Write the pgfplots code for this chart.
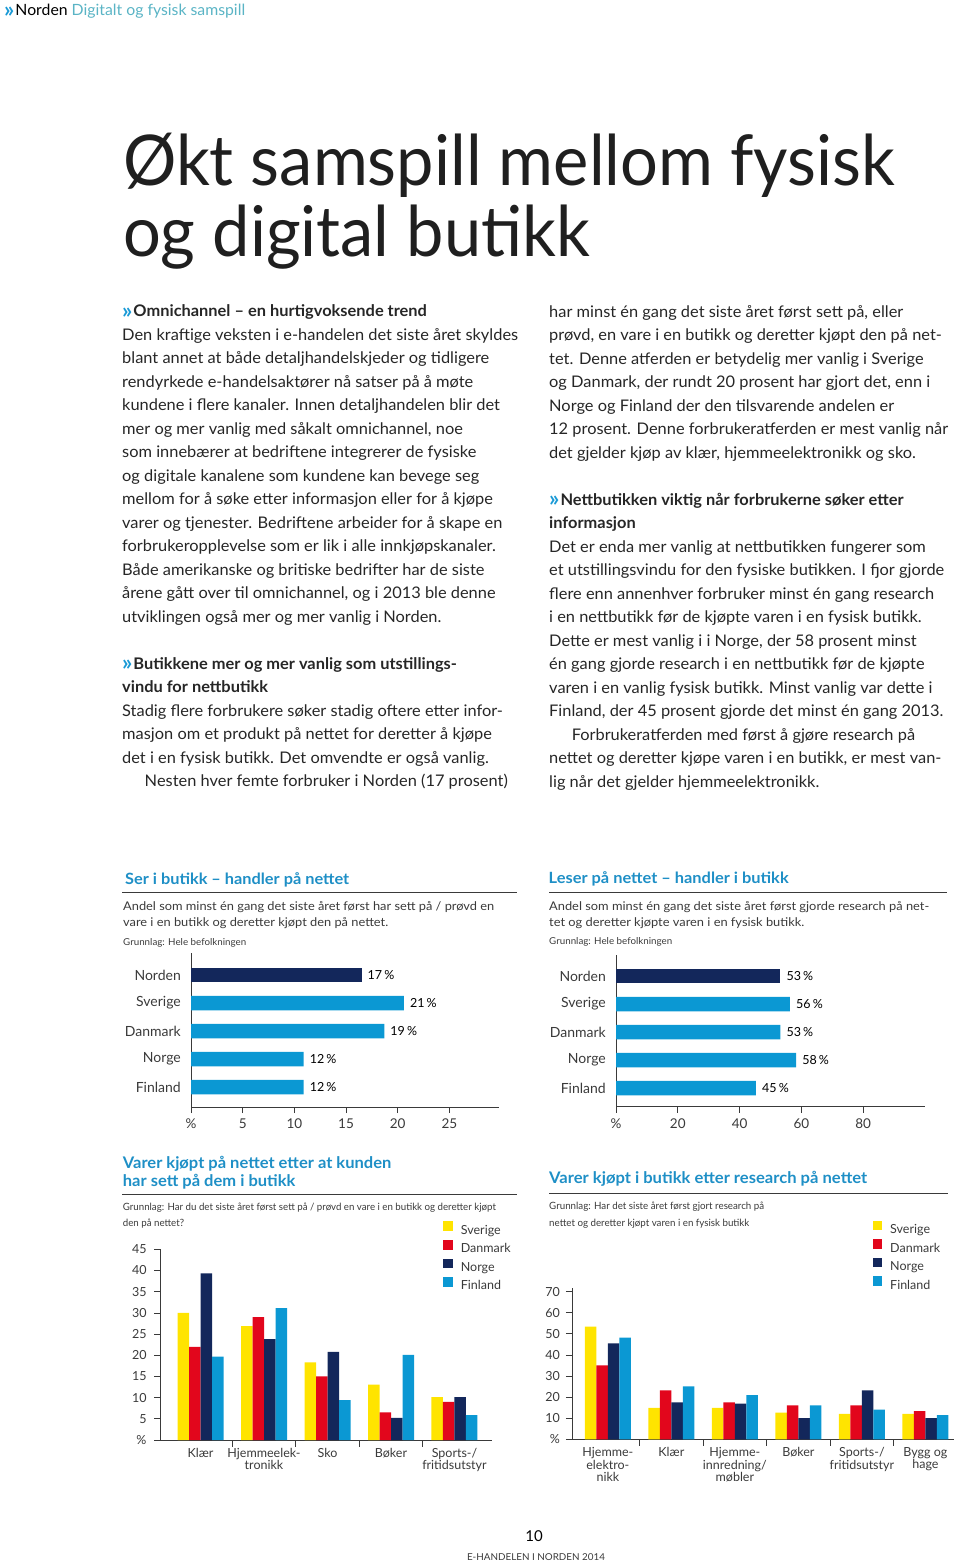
\documentclass[border=0pt]{standalone}
\usepackage{fontspec}
\setmainfont{Lato}
\usepackage{graphicx}
\usepackage{pgfplots}
\pgfplotsset{compat=1.18}

\definecolor{txt}{HTML}{262626}
\definecolor{chev}{HTML}{1A9AD6}
\definecolor{hteal}{HTML}{5AB4C5}
\definecolor{ctitle}{HTML}{1E8FC6}
\definecolor{navy}{HTML}{13275B}
\definecolor{fblue}{HTML}{0B98D3}
\definecolor{dred}{HTML}{E2061C}
\definecolor{yel}{HTML}{FFE400}
\definecolor{axc}{HTML}{3A3A3A}

\newlength\tmpw
\newcommand\setfit[3]{\settowidth{\tmpw}{#3}\pgfmathsetmacro#1{#2/\tmpw}}
\newcommand\fitline[3]{\setfit\fitr{#1}{#2#3}\scalebox{\fitr}[1]{#2#3}}
\newcommand\fs[2]{\fontsize{#1}{#2}\selectfont}
\newcommand\bodyf{\fs{16}{23.5}\color{txt}}
\newcommand\chv{\raisebox{-1.3pt}{\fs{22}{22}\color{chev}\bfseries »}}
\newcommand\hd[1]{\chv\kern1pt{\bfseries #1}}

\pgfplotsset{
  sqleg/.style={legend image code/.code={\fill[##1] (0pt,0pt) rectangle (9.5pt,9.5pt);}},
  hbarax/.style={
    anchor=south west, scale only axis, xbar, bar width=14.5pt,
    axis x line*=bottom, axis y line*=left,
    axis line style={-, draw=axc, line width=0.7pt},
    tick align=outside, major tick length=6pt,
    xtick style={draw=axc, line width=0.7pt},
    ytick style={draw=none},
    x tick label style={font=\fs{13.5}{14}, text=axc, anchor=base, inner sep=0pt, yshift=-15.5pt},
    y tick label style={font=\fs{14}{15}, text=axc, anchor=east, inner sep=0pt, xshift=-4pt},
    ytick={0,1,2,3,4}, yticklabels={Finland,Norge,Danmark,Sverige,Norden},
    nodes near coords, point meta=explicit symbolic,
    nodes near coords style={font=\fs{12.5}{13}, text=black, anchor=west, inner sep=0pt, xshift=6pt},
    clip=false,
  },
  vbarax/.style={
    anchor=south west, scale only axis, ybar=0pt, bar width=11.5pt,
    axis x line*=bottom, axis y line*=left,
    axis line style={-, draw=axc, line width=0.7pt},
    tick align=outside, major tick length=6.5pt,
    ytick style={draw=axc, line width=0.7pt},
    xtick style={draw=none},
    y tick label style={font=\fs{12.5}{13}, text=axc, anchor=east, inner sep=0pt},
    x tick label style={font=\fs{12.5}{12.5}, text=axc, align=center, anchor=north, inner sep=0pt, yshift=-1.5pt},
    extra x tick labels={},
    extra x tick style={xtick style={draw=axc, line width=0.7pt}},
    legend cell align=left,
    legend style={anchor=north west, draw=none, fill=none, inner sep=0pt, outer sep=0pt,
      row sep=2.8pt, column sep=8pt, font=\fs{12.5}{13}, text=axc,
      nodes={inner sep=0pt, text height=9.5pt, text depth=3pt}},
    clip=false,
  },
}

\begin{document}%
\setfit\hdrr{241}{\fs{15.5}{16}\chv\kern1pt Norden Digitalt og fysisk samspill}%
\setfit\titler{772}{\fs{70}{71}Økt samspill mellom fysisk}%
\setfit\bodyr{396}{\bodyf Den kraftige veksten i e-handelen det siste året skyldes}%
\setfit\subAr{371}{\fs{12}{16.7}Andel som minst én gang det siste året først har sett på / prøvd en}%
\setfit\subBr{380}{\fs{12}{16.7}Andel som minst én gang det siste året først gjorde research på net-}%
\setfit\tCr{268.5}{\fs{16}{18.4}\bfseries Varer kjøpt på nettet etter at kunden}%
\setfit\gCr{373}{\fs{10}{16.7}Grunnlag: Har du det siste året først sett på / prøvd en vare i en butikk og deretter kjøpt}%
\setfit\gDr{215}{\fs{10}{17.4}Grunnlag: Har det siste året først gjort research på}%
\begin{tikzpicture}
\path[use as bounding box] (0pt,0pt) rectangle (960pt,-1563pt);

% ---- header
\node[anchor=base west, inner sep=0pt] at (4pt,-16pt)
  {\scalebox{\hdrr}[1]{\fs{15.5}{16}\chv\kern1pt{\color{black}Norden} {\color{hteal}Digitalt og fysisk samspill}}};

% ---- title
\node[anchor=base west, inner sep=0pt] at (123pt,-185pt)
  {\scalebox{\titler}[1]{\fs{70}{71}\color{black!88}Økt samspill mellom fysisk}};
\node[anchor=base west, inner sep=0pt] at (123pt,-256pt)
  {\scalebox{\titler}[1]{\fs{70}{71}\color{black!88}og digital butikk}};

% ---- left column
\node[anchor=base west, inner sep=0pt] at (122pt,-316.7pt) {\scalebox{\bodyr}[1]{\bodyf\vtop{%
\hbox{\hd{Omnichannel – en hurtigvoksende trend}}
\hbox{Den kraftige veksten i e-handelen det siste året skyldes}
\hbox{blant annet at både detaljhandelskjeder og tidligere}
\hbox{rendyrkede e-handelsaktører nå satser på å møte}
\hbox{kundene i flere kanaler. Innen detaljhandelen blir det}
\hbox{mer og mer vanlig med såkalt omnichannel, noe}
\hbox{som innebærer at bedriftene integrerer de fysiske}
\hbox{og digitale kanalene som kundene kan bevege seg}
\hbox{mellom for å søke etter informasjon eller for å kjøpe}
\hbox{varer og tjenester. Bedriftene arbeider for å skape en}
\hbox{forbrukeropplevelse som er lik i alle innkjøpskanaler.}
\hbox{Både amerikanske og britiske bedrifter har de siste}
\hbox{årene gått over til omnichannel, og i 2013 ble denne}
\hbox{utviklingen også mer og mer vanlig i Norden.}
\hbox{}
\hbox{\hd{Butikkene mer og mer vanlig som utstillings-}}
\hbox{\bfseries vindu for nettbutikk}
\hbox{Stadig flere forbrukere søker stadig oftere etter infor-}
\hbox{masjon om et produkt på nettet for deretter å kjøpe}
\hbox{det i en fysisk butikk. Det omvendte er også vanlig.}
\hbox{\kern22pt Nesten hver femte forbruker i Norden (17 prosent)}}}};

% ---- right column
\node[anchor=base west, inner sep=0pt] at (549pt,-317pt) {\scalebox{\bodyr}[1]{\bodyf\vtop{%
\hbox{har minst én gang det siste året først sett på, eller}
\hbox{prøvd, en vare i en butikk og deretter kjøpt den på net-}
\hbox{tet. Denne atferden er betydelig mer vanlig i Sverige}
\hbox{og Danmark, der rundt 20 prosent har gjort det, enn i}
\hbox{Norge og Finland der den tilsvarende andelen er}
\hbox{12 prosent. Denne forbrukeratferden er mest vanlig når}
\hbox{det gjelder kjøp av klær, hjemmeelektronikk og sko.}
\hbox{}
\hbox{\hd{Nettbutikken viktig når forbrukerne søker etter}}
\hbox{\bfseries informasjon}
\hbox{Det er enda mer vanlig at nettbutikken fungerer som}
\hbox{et utstillingsvindu for den fysiske butikken. I fjor gjorde}
\hbox{flere enn annenhver forbruker minst én gang research}
\hbox{i en nettbutikk før de kjøpte varen i en fysisk butikk.}
\hbox{Dette er mest vanlig i i Norge, der 58 prosent minst}
\hbox{én gang gjorde research i en nettbutikk før de kjøpte}
\hbox{varen i en vanlig fysisk butikk. Minst vanlig var dette i}
\hbox{Finland, der 45 prosent gjorde det minst én gang 2013.}
\hbox{\kern22pt Forbrukeratferden med først å gjøre research på}
\hbox{nettet og deretter kjøpe varen i en butikk, er mest van-}
\hbox{lig når det gjelder hjemmeelektronikk.}}}};

% ---- chart headings
\node[anchor=base west, inner sep=0pt] at (125pt,-884pt)
  {\fitline{224}{\fs{15.5}{16}\bfseries\color{ctitle}}{Ser i butikk – handler på nettet}};
\draw[axc, line width=1.3pt] (122pt,-892.3pt) -- (516.7pt,-892.3pt);
\node[anchor=base west, inner sep=0pt] at (123pt,-910pt) {\scalebox{\subAr}[1]{\fs{12}{16.7}\color{axc}\vtop{%
\hbox{Andel som minst én gang det siste året først har sett på / prøvd en}
\hbox{vare i en butikk og deretter kjøpt den på nettet.}}}};
\node[anchor=base west, inner sep=0pt] at (123pt,-945pt)
  {\fitline{123}{\fs{9.5}{10}\color{axc}}{Grunnlag: Hele befolkningen}};

\node[anchor=base west, inner sep=0pt] at (548.5pt,-883.3pt)
  {\fitline{240}{\fs{15.5}{16}\bfseries\color{ctitle}}{Leser på nettet – handler i butikk}};
\draw[axc, line width=1.3pt] (549pt,-892.3pt) -- (947.3pt,-892.3pt);
\node[anchor=base west, inner sep=0pt] at (549pt,-910pt) {\scalebox{\subBr}[1]{\fs{12}{16.7}\color{axc}\vtop{%
\hbox{Andel som minst én gang det siste året først gjorde research på net-}
\hbox{tet og deretter kjøpte varen i en fysisk butikk.}}}};
\node[anchor=base west, inner sep=0pt] at (549pt,-944pt)
  {\fitline{123}{\fs{9.5}{10}\color{axc}}{Grunnlag: Hele befolkningen}};

\node[anchor=base west, inner sep=0pt] at (122.7pt,-1168.3pt) {\scalebox{\tCr}[1]{\fs{16}{18.4}\bfseries\color{ctitle}\vtop{%
\hbox{Varer kjøpt på nettet etter at kunden}
\hbox{har sett på dem i butikk}}}};
\draw[axc, line width=1.3pt] (122pt,-1194.3pt) -- (516.7pt,-1194.3pt);
\node[anchor=base west, inner sep=0pt] at (122.7pt,-1210pt) {\scalebox{\gCr}[1]{\fs{10}{16.7}\color{axc}\vtop{%
\hbox{Grunnlag: Har du det siste året først sett på / prøvd en vare i en butikk og deretter kjøpt}
\hbox{den på nettet?}}}};

\node[anchor=base west, inner sep=0pt] at (549pt,-1183.3pt)
  {\fitline{318}{\fs{16}{18}\bfseries\color{ctitle}}{Varer kjøpt i butikk etter research på nettet}};
\draw[axc, line width=1.3pt] (549pt,-1193.3pt) -- (947.7pt,-1193.3pt);
\node[anchor=base west, inner sep=0pt] at (549pt,-1209.3pt) {\scalebox{\gDr}[1]{\fs{10}{17.4}\color{axc}\vtop{%
\hbox{Grunnlag: Har det siste året først gjort research på}
\hbox{nettet og deretter kjøpt varen i en fysisk butikk}}}};

% ---- chart 1
\begin{axis}[hbarax, at={(191pt,-1107pt)}, width=308pt, height=154pt,
  xmin=0, xmax=29.8, ymin=-0.714, ymax=4.786,
  xtick={0,5,10,15,20,25}, xticklabels={\%,5,10,15,20,25}]
\addplot[fill=navy, draw=none, bar shift=0pt] coordinates {(16.5,4) [17\,\%]};
\addplot[fill=fblue, draw=none, bar shift=0pt] coordinates {(20.6,3) [21\,\%] (18.7,2) [19\,\%] (10.9,1) [12\,\%] (10.9,0) [12\,\%]};
\end{axis}

% ---- chart 2
\begin{axis}[hbarax, at={(616pt,-1106.7pt)}, width=309pt, height=151.7pt,
  xmin=0, xmax=100, ymin=-0.668, ymax=4.75,
  xtick={0,20,40,60,80}, xticklabels={\%,20,40,60,80}]
\addplot[fill=navy, draw=none, bar shift=0pt] coordinates {(53.2,4) [53\,\%]};
\addplot[fill=fblue, draw=none, bar shift=0pt] coordinates {(56.3,3) [56\,\%] (53.2,2) [53\,\%] (58.3,1) [58\,\%] (45.3,0) [45\,\%]};
\end{axis}

% ---- chart 3
\begin{axis}[vbarax, at={(160.7pt,-1440pt)}, width=331pt, height=190.7pt,
  xmin=-0.627, xmax=4.586, ymin=0, ymax=45,
  ytick={0,5,...,45}, yticklabels={\%,5,10,15,20,25,30,35,40,45},
  y tick label style={xshift=-7.5pt},
  xtick={0,1,2,3,4},
  xticklabels={Klær,{Hjemmeelek-\\tronikk},Sko,Bøker,{Sports-/\\fritidsutstyr}},
  extra x ticks={0.5,1.5,2.5,3.5},
  legend style={at={(rel axis cs:0.854,1.146)}}]
\addplot[fill=yel, draw=none, sqleg] coordinates {(0,30.0) (1,26.9) (2,18.3) (3,13.1) (4,10.1)};
\addplot[fill=dred, draw=none, sqleg] coordinates {(0,22.0) (1,29.0) (2,15.0) (3,6.5) (4,9.0)};
\addplot[fill=navy, draw=none, sqleg] coordinates {(0,39.3) (1,23.8) (2,20.8) (3,5.2) (4,10.1)};
\addplot[fill=fblue, draw=none, sqleg] coordinates {(0,19.7) (1,31.1) (2,9.4) (3,20.1) (4,5.9)};
\legend{Sverige,Danmark,Norge,Finland}
\end{axis}

% ---- chart 4
\begin{axis}[vbarax, at={(572.3pt,-1439.3pt)}, width=381.7pt, height=151.3pt,
  xmin=-0.56, xmax=5.45, ymin=0, ymax=71.7,
  ytick={0,10,...,70}, yticklabels={\%,10,20,30,40,50,60,70},
  y tick label style={xshift=-5.8pt},
  xtick={0,1,2,3,4,5},
  xticklabels={{Hjemme-\\elektro-\\nikk},Klær,{Hjemme-\\innredning/\\møbler},Bøker,{Sports-/\\fritidsutstyr},{Bygg og\\hage}},
  extra x ticks={0.5,1.5,2.5,3.5,4.5},
  legend style={at={(rel axis cs:0.787,1.444)}}]
\addplot[fill=yel, draw=none, sqleg] coordinates {(0,53.4) (1,14.9) (2,14.9) (3,12.6) (4,12.0) (5,12.0)};
\addplot[fill=dred, draw=none, sqleg] coordinates {(0,35.1) (1,23.2) (2,17.5) (3,16.1) (4,16.1) (5,13.4)};
\addplot[fill=navy, draw=none, sqleg] coordinates {(0,45.5) (1,17.5) (2,16.9) (3,10.0) (4,23.2) (5,10.0)};
\addplot[fill=fblue, draw=none, sqleg] coordinates {(0,48.2) (1,25.1) (2,21.0) (3,16.1) (4,14.1) (5,11.5)};
\legend{Sverige,Danmark,Norge,Finland}
\end{axis}

% ---- footer
\node[inner sep=0pt] at (534pt,-1536pt) {\fs{15}{16}\color{black}10};
\node[inner sep=0pt] at (536pt,-1557pt)
  {\fitline{138}{\fs{9.5}{10}\color{axc}}{E-HANDELEN I NORDEN 2014}};
\end{tikzpicture}%
\end{document}
